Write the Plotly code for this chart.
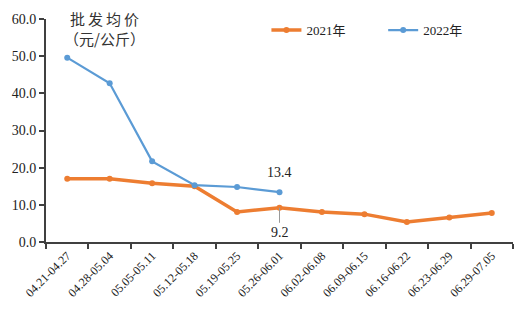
import plotly.graph_objects as go

categories = ["04.21-04.27", "04.28-05.04", "05.05-05.11", "05.12-05.18", "05.19-05.25",
              "05.26-06.01", "06.02-06.08", "06.09-06.15", "06.16-06.22", "06.23-06.29", "06.29-07.05"]
values_2021 = [17.0, 17.0, 15.8, 15.0, 8.1, 9.2, 8.1, 7.5, 5.4, 6.6, 7.8]
values_2022 = [49.6, 42.7, 21.7, 15.3, 14.8, 13.4]
y_ticks = [0, 10, 20, 30, 40, 50, 60]
y_ticklabels = ["0.0", "10.0", "20.0", "30.0", "40.0", "50.0", "60.0"]

ORANGE = "#ED7D31"
BLUE = "#5B9BD5"
serif = "Liberation Serif"

fig = go.Figure()
fig.add_trace(go.Scatter(x=categories, y=values_2021, mode="lines+markers", name="2021年",
                         line=dict(color=ORANGE, width=3.5), marker=dict(size=6, color=ORANGE),
                         legend="legend"))
fig.add_trace(go.Scatter(x=categories[:len(values_2022)], y=values_2022, mode="lines+markers", name="2022年",
                         line=dict(color=BLUE, width=2.2), marker=dict(size=6, color=BLUE),
                         legend="legend2"))

fig.add_annotation(x=categories[5], y=values_2022[5], text="13.4", showarrow=False,
                   yshift=20, font=dict(family=serif, size=14, color="#222"))
fig.add_annotation(x=categories[5], y=values_2021[5], text="9.2", showarrow=True,
                   ax=0, ay=15, arrowhead=0, arrowwidth=1, arrowcolor="#999",
                   font=dict(family=serif, size=14, color="#222"), yanchor="top")

fig.add_annotation(xref="paper", yref="paper", x=(104 - 46) / 467, y=(241.7 - 24) / 227.7,
                   text="批\u2009发\u2009均\u2009价<br>（元/公斤）",
                   showarrow=False, xanchor="center", yanchor="middle",
                   font=dict(family="Noto Sans CJK SC", size=15, color="#333"))

legend_font = dict(family="Liberation Serif, Noto Sans CJK SC", size=13, color="#222")
fig.update_layout(
    width=530, height=323,
    margin=dict(l=46, r=17, t=14, b=81),
    paper_bgcolor="white", plot_bgcolor="white",
    showlegend=True,
    legend=dict(orientation="h", x=0.472, y=0.95, xanchor="left", yanchor="middle",
                font=legend_font, bgcolor="rgba(0,0,0,0)"),
    legend2=dict(orientation="h", x=0.722, y=0.95, xanchor="left", yanchor="middle",
                 font=legend_font, bgcolor="rgba(0,0,0,0)"),
    font=dict(family=serif, size=12, color="#222"),
)
fig.update_xaxes(type="category", showline=True, linecolor="#404040", linewidth=2,
                 ticks="outside", tickson="boundaries", ticklen=5, tickcolor="#404040", tickwidth=2,
                 tickangle=-45, showgrid=False, range=[-0.5, len(categories) - 0.5],
                 tickfont=dict(family=serif, size=12, color="#222"))
fig.update_yaxes(range=[0, 60], tickvals=y_ticks, ticktext=y_ticklabels, showline=True,
                 linecolor="#404040", linewidth=2, ticks="outside", ticklen=5, tickcolor="#404040",
                 tickwidth=2, showgrid=False, zeroline=False,
                 tickfont=dict(family=serif, size=14, color="#222"))

fig.write_html("out.html")
